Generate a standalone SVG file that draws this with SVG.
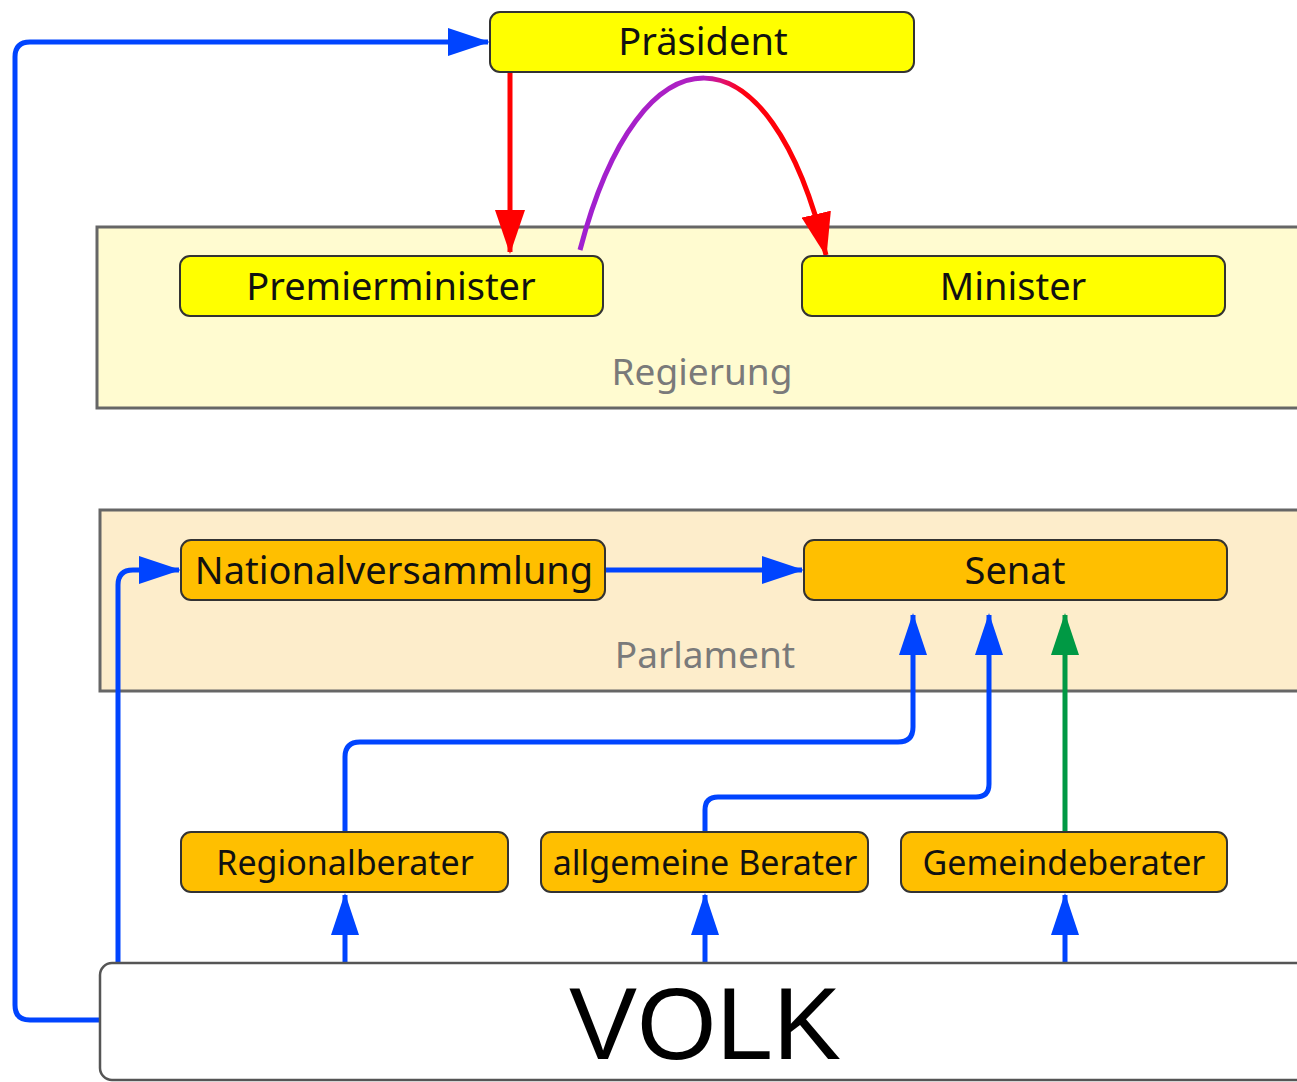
<svg xmlns="http://www.w3.org/2000/svg" width="1297" height="1082" viewBox="0 0 1297 1082">
<style>
.lbl{font-family:"Noto Sans","Liberation Sans",sans-serif;fill:#111;text-anchor:middle}
.big{font-size:38px}
.mid{font-size:34px}
.grp{font-family:"Noto Sans","Liberation Sans",sans-serif;fill:#7a7a7a;font-size:37px;text-anchor:middle}
.y{fill:#ffff00;stroke:#333;stroke-width:2}
.o{fill:#ffbf00;stroke:#333;stroke-width:2}
.c{fill:none;stroke-width:5;stroke-linejoin:round}
.b{stroke:#0044ff}
</style>
<defs>
<marker id="ab" markerUnits="userSpaceOnUse" markerWidth="42" markerHeight="28" refX="40" refY="14" orient="auto"><path d="M0,0 L42,14 L0,28 Z" fill="#0044ff"/></marker>
<marker id="ar" markerUnits="userSpaceOnUse" markerWidth="44" markerHeight="30" refX="42" refY="15" orient="auto"><path d="M0,0 L44,15 L0,30 Z" fill="#ff0000"/></marker>
<marker id="ag" markerUnits="userSpaceOnUse" markerWidth="42" markerHeight="28" refX="40" refY="14" orient="auto"><path d="M0,0 L42,14 L0,28 Z" fill="#009944"/></marker>
<linearGradient id="pr" gradientUnits="userSpaceOnUse" x1="580" y1="0" x2="826" y2="0">
<stop offset="0" stop-color="#a020d0"/><stop offset="0.5" stop-color="#b020c0"/><stop offset="0.58" stop-color="#e01070"/><stop offset="0.66" stop-color="#ff0010"/><stop offset="1" stop-color="#ff0000"/>
</linearGradient>
</defs>
<rect width="1297" height="1082" fill="#ffffff"/>
<g id="regierung">
<rect x="97" y="227" width="1210" height="181" fill="#fffbd0" stroke="#666" stroke-width="3"/>
<text class="grp" x="702" y="385">Regierung</text>
</g>
<g id="parlament">
<rect x="100" y="510" width="1210" height="181" fill="#fdedcb" stroke="#666" stroke-width="3"/>
<text class="grp" x="705" y="668">Parlament</text>
</g>
<g id="connectors">
<path class="c b" d="M100,1020 H30 Q15,1020 15,1005 V57 Q15,42 30,42 H488" marker-end="url(#ab)"/>
<path class="c b" d="M118,963 V585 Q118,570 133,570 H179" marker-end="url(#ab)"/>
<path class="c b" d="M606,570 H802" marker-end="url(#ab)"/>
<path class="c b" d="M345,832 V757 Q345,742 360,742 H898 Q913,742 913,727 V615" marker-end="url(#ab)"/>
<path class="c b" d="M705,832 V810 Q705,797 718,797 H976 Q989,797 989,784 V615" marker-end="url(#ab)"/>
<path class="c" stroke="#009944" d="M1065,832 V615" marker-end="url(#ag)"/>
<path class="c b" d="M345,963 V895" marker-end="url(#ab)"/>
<path class="c b" d="M705,963 V895" marker-end="url(#ab)"/>
<path class="c b" d="M1065,963 V895" marker-end="url(#ab)"/>
<path class="c" stroke="#ff0000" d="M510,73 V252" marker-end="url(#ar)"/>
<path class="c" stroke="url(#pr)" stroke-width="7" d="M580,250 C640,20 770,20 826,255" marker-end="url(#ar)"/>
</g>
<g id="praesident"><rect class="y" x="490" y="12" width="424" height="60" rx="10"/><text class="lbl big" x="703" y="55">Präsident</text></g>
<g id="premierminister"><rect class="y" x="180" y="256" width="423" height="60" rx="10"/><text class="lbl big" x="391" y="300">Premierminister</text></g>
<g id="minister"><rect class="y" x="802" y="256" width="423" height="60" rx="10"/><text class="lbl big" x="1013" y="300">Minister</text></g>
<g id="nationalversammlung"><rect class="o" x="181" y="540" width="424" height="60" rx="10"/><text class="lbl big" x="394" y="584">Nationalversammlung</text></g>
<g id="senat"><rect class="o" x="804" y="540" width="423" height="60" rx="10"/><text class="lbl big" x="1015" y="584">Senat</text></g>
<g id="regionalberater"><rect class="o" x="181" y="832" width="327" height="60" rx="10"/><text class="lbl mid" x="345" y="875">Regionalberater</text></g>
<g id="allgemeine"><rect class="o" x="541" y="832" width="327" height="60" rx="10"/><text class="lbl mid" x="705" y="875">allgemeine Berater</text></g>
<g id="gemeindeberater"><rect class="o" x="901" y="832" width="326" height="60" rx="10"/><text class="lbl mid" x="1064" y="875">Gemeindeberater</text></g>
<g id="volk"><rect x="100" y="963" width="1220" height="117" rx="12" fill="#ffffff" stroke="#555" stroke-width="2.5"/><text x="705" y="1059" font-family="Liberation Sans, Arial, sans-serif" font-size="102" fill="#000" text-anchor="middle">VOLK</text></g>
</svg>
